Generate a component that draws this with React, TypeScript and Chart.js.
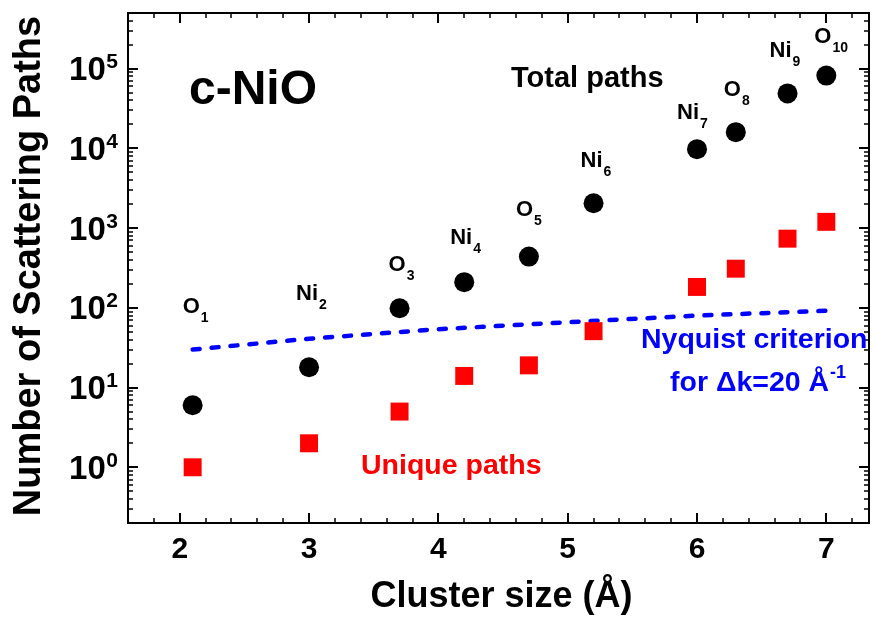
import { useEffect, useRef } from "react";
import { Chart, registerables } from "chart.js";

Chart.register(...registerables);

// Cluster radius (Å) of each coordination shell
const clusterSize = [2.1, 3.0, 3.7, 4.2, 4.7, 5.2, 6.0, 6.3, 6.7, 7.0];
// Total number of scattering paths inside the cluster
const totalPaths = [6, 18, 99, 210, 440, 2050, 9800, 16000, 49000, 82000];
// Number of symmetry-unique scattering paths
const uniquePaths = [1, 2, 5, 14, 19, 51, 183, 310, 738, 1200];
// Shell labels: element and shell number
const shellElement = ["O", "Ni", "O", "Ni", "O", "Ni", "Ni", "O", "Ni", "O"];
const shellNumber = ["1", "2", "3", "4", "5", "6", "7", "8", "9", "10"];
// Nyquist limit on independent points for Δk = 20 Å⁻¹
const nyquistSize = [2.1, 3.0, 4.0, 5.0, 6.0, 7.0];
const nyquistPaths = [30, 41, 54, 66, 80, 92];
// Axis ticks
const xTickValues = [2, 3, 4, 5, 6, 7];
const yDecades = [0, 1, 2, 3, 4, 5];

// Pixel offset of each shell label (left, baseline) from its black marker
const labelOffsets: [number, number][] = [
  [-10, -92], [-13, -67], [-11, -37], [-14, -38], [-13, -41],
  [-13, -36], [-20, -30], [-12, -36], [-18, -36], [-12, -33],
];

const FAMILY = '"Liberation Sans", Arial, Helvetica, sans-serif';
const f = (size: number) => `bold ${size}px ${FAMILY}`;

const X_MIN = 1.6;
const X_MAX = 7.33;
const Y_MIN = 0.2;
const Y_MAX = 5e5;

const decorations = {
  id: "decorations",
  afterDatasetsDraw(chart: any) {
    const { ctx, chartArea, scales } = chart;
    const { left, right, top, bottom } = chartArea;
    const xs = scales.x;
    const ys = scales.y;
    ctx.save();

    // frame
    ctx.strokeStyle = "#000";
    ctx.lineWidth = 2;
    ctx.strokeRect(left, top, right - left, bottom - top);

    // x ticks (major every 1, minor every 0.2), on bottom and top, pointing inward
    const xTick = (v: number, len: number, w: number) => {
      const px = Math.round(xs.getPixelForValue(v));
      ctx.lineWidth = w;
      ctx.beginPath();
      ctx.moveTo(px, bottom);
      ctx.lineTo(px, bottom - len);
      ctx.moveTo(px, top);
      ctx.lineTo(px, top + len);
      ctx.stroke();
    };
    for (let i = 9; i <= 36; i++) {
      const v = i / 5;
      if (v <= X_MIN || v >= X_MAX) continue;
      const major = i % 5 === 0;
      xTick(v, major ? 10 : 5, major ? 2 : 1.5);
    }

    // y ticks (decades and 2..9 minors), on left and right, pointing inward
    const yTick = (v: number, len: number, w: number) => {
      const py = Math.round(ys.getPixelForValue(v));
      ctx.lineWidth = w;
      ctx.beginPath();
      ctx.moveTo(left, py);
      ctx.lineTo(left + len, py);
      ctx.moveTo(right, py);
      ctx.lineTo(right - len, py);
      ctx.stroke();
    };
    for (let d = -1; d <= 5; d++) {
      for (let m = 1; m <= 9; m++) {
        const v = m * Math.pow(10, d);
        if (v <= Y_MIN * 0.999 || v >= Y_MAX * 0.999) continue;
        yTick(v, m === 1 ? 10 : 5, m === 1 ? 2 : 1.5);
      }
    }

    ctx.fillStyle = "#000";

    // x tick labels
    ctx.font = f(30);
    ctx.textAlign = "center";
    ctx.textBaseline = "alphabetic";
    xTickValues.forEach((v) => {
      ctx.fillText(String(v), xs.getPixelForValue(v), bottom + 35);
    });

    // y tick labels: 10 with superscript exponent
    yDecades.forEach((d) => {
      const py = ys.getPixelForValue(Math.pow(10, d));
      ctx.font = f(21);
      ctx.textAlign = "right";
      const supRight = left - 10;
      const supW = ctx.measureText(String(d)).width;
      ctx.fillText(String(d), supRight, py - 0.5);
      ctx.font = f(33);
      ctx.fillText("10", supRight - supW - 0.5, py + 11.5);
    });

    // axis titles
    ctx.font = f(36);
    ctx.textAlign = "center";
    ctx.fillText("Cluster size (Å)", (left + right) / 2 + 3, 607);
    ctx.save();
    ctx.translate(40, (top + bottom) / 2 - 2);
    ctx.rotate(-Math.PI / 2);
    ctx.font = f(38);
    ctx.fillText("Number of Scattering Paths", 0, 0);
    ctx.restore();

    // shell labels with subscripts
    ctx.textAlign = "left";
    clusterSize.forEach((sx, i) => {
      const px = xs.getPixelForValue(sx) + labelOffsets[i][0];
      const py = ys.getPixelForValue(totalPaths[i]) + labelOffsets[i][1];
      ctx.font = f(22);
      ctx.fillText(shellElement[i], px, py);
      const w = ctx.measureText(shellElement[i]).width;
      ctx.font = f(14);
      ctx.fillText(shellNumber[i], px + w + 1, py + 9);
    });

    // annotations
    ctx.font = f(48);
    ctx.fillText("c-NiO", 189, 104);
    ctx.font = f(29);
    ctx.fillText("Total paths", 511, 87);

    ctx.fillStyle = "#ff0000";
    ctx.font = f(28.5);
    ctx.fillText("Unique paths", 361, 474);

    ctx.fillStyle = "#0000ff";
    ctx.fillText("Nyquist criterion", 641, 348);
    const line2 = "for \u0394k=20 \u00C5";
    ctx.fillText(line2, 670, 391);
    const l2w = ctx.measureText(line2).width;
    ctx.font = f(18);
    ctx.fillText("-1", 670 + l2w + 1, 378);

    ctx.restore();
  },
};

export default function App() {
  const canvasRef = useRef<HTMLCanvasElement | null>(null);

  useEffect(() => {
    document.body.style.margin = "0";
    const canvas = canvasRef.current;
    if (!canvas) return;
    const chart = new Chart(canvas, {
      type: "scatter",
      data: {
        datasets: [
          {
            label: "Total paths",
            data: clusterSize.map((x, i) => ({ x, y: totalPaths[i] })),
            pointStyle: "circle",
            pointRadius: 10,
            backgroundColor: "#000000",
            borderColor: "#000000",
            borderWidth: 0,
          },
          {
            label: "Unique paths",
            data: clusterSize.map((x, i) => ({ x, y: uniquePaths[i] })),
            pointStyle: "rect",
            pointRadius: 12.7,
            backgroundColor: "#ff0000",
            borderColor: "#ff0000",
            borderWidth: 0,
          },
          {
            label: "Nyquist criterion",
            data: nyquistSize.map((x, i) => ({ x, y: nyquistPaths[i] })),
            showLine: true,
            borderColor: "#0000ff",
            borderWidth: 4.5,
            borderDash: [7, 12],
            borderCapStyle: "round",
            pointRadius: 0,
            fill: false,
            tension: 0,
          } as any,
        ],
      },
      options: {
        animation: false,
        responsive: false,
        events: [],
        layout: { autoPadding: false, padding: { left: 128, right: 5, top: 13, bottom: 94 } },
        plugins: {
          legend: { display: false },
          tooltip: { enabled: false },
        },
        scales: {
          x: { type: "linear", display: false, min: X_MIN, max: X_MAX },
          y: { type: "logarithmic", display: false, min: Y_MIN, max: Y_MAX },
        },
      } as any,
      plugins: [decorations],
    });
    return () => chart.destroy();
  }, []);

  return (
    <div style={{ position: "absolute", left: 0, top: 0, width: 874, height: 617, background: "#fff" }}>
      <canvas ref={canvasRef} width={874} height={617} style={{ display: "block" }} />
    </div>
  );
}
